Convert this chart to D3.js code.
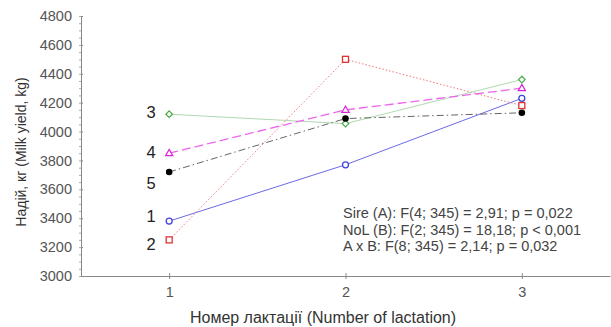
<!DOCTYPE html>
<html><head><meta charset="utf-8">
<script src="https://cdn.jsdelivr.net/npm/d3@7"></script>
<style>body{margin:0;background:#fff}svg{display:block;font-family:Arial,"Liberation Sans",sans-serif}</style>
</head><body><svg id="c" width="611" height="327"></svg>
<script>
const lactations = [1, 2, 3];
const seriesNames = ["1", "2", "3", "4", "5"];
const sire1 = [3380, 3770, 4230];
const sire2 = [3250, 4500, 4180];
const sire3 = [4120, 4055, 4360];
const sire4 = [3850, 4150, 4300];
const sire5 = [3720, 4090, 4130];
const yTicks = [3000, 3200, 3400, 3600, 3800, 4000, 4200, 4400, 4600, 4800];
const statsLines = [
  "Sire (A): F(4; 345) = 2,91; p = 0,022",
  "NoL (B): F(2; 345) = 18,18; p < 0,001",
  "A x B: F(8; 345) = 2,14; p = 0,032"
];
const yTitle = "Надій, кг (Milk yield, kg)";
const xTitle = "Номер лактації (Number of lactation)";

const FF = "Arial, Liberation Sans, sans-serif";
const svg = d3.select("#c");
const m = {l: 81, r: 0, t: 16, b: 51};
const W = 611, H = 327;
const x = d3.scaleLinear().domain([0.5, 3.5]).range([m.l, W - 1]);
const y = d3.scaleLinear().domain([3000, 4800]).range([H - m.b, m.t]);

const yAxisG = svg.append("g").attr("transform", `translate(${m.l},0)`);
yAxisG.call(d3.axisLeft(y).tickValues(d3.range(3000, 4801, 50)).tickSize(2).tickFormat(""))
  .call(g => g.selectAll(".tick line").attr("stroke", "#aaa"))
  .call(g => g.select(".domain").remove());
yAxisG.append("g").call(d3.axisLeft(y).tickValues(yTicks).tickSizeInner(4).tickSizeOuter(0).tickPadding(5).tickFormat(d3.format("d")))
  .call(g => g.select(".domain").attr("stroke", "#888"))
  .call(g => g.selectAll(".tick line").attr("stroke", "#888").attr("x2", 2))
  .call(g => g.selectAll(".tick text").attr("fill", "#555").attr("font-size", 14.5).attr("font-family", FF));

svg.append("g").attr("transform", `translate(0,${H - m.b})`)
  .call(d3.axisBottom(x).tickValues(lactations).tickSizeInner(3).tickSizeOuter(0).tickPadding(8).tickFormat(d3.format("d")))
  .call(g => g.select(".domain").attr("stroke", "#888"))
  .call(g => g.selectAll(".tick line").attr("stroke", "#888").attr("y1", -3))
  .call(g => g.selectAll(".tick text").attr("fill", "#555").attr("font-size", 14.5).attr("font-family", FF));

const series = [
  {name: seriesNames[0], v: sire1, color: "#6a6ae8", dash: null, w: 1, mk: "circle", ldy: -5},
  {name: seriesNames[1], v: sire2, color: "#f07878", dash: "1.5,2", w: 1, mk: "square", ldy: 4},
  {name: seriesNames[2], v: sire3, color: "#b0d8b0", dash: null, w: 1, mk: "diamond", ldy: -2},
  {name: seriesNames[3], v: sire4, color: "#ee66ee", dash: "9,4", w: 1.3, mk: "triangle", ldy: -1},
  {name: seriesNames[4], v: sire5, color: "#666", dash: "7,3,1.5,3", w: 1, mk: "dot", ldy: 11}
];
const mcol = {circle: "#4444dd", square: "#dd3333", diamond: "#44aa44", triangle: "#dd22dd", dot: "#000"};

const line = d3.line().x((d, i) => x(lactations[i])).y(d => y(d));
series.forEach(s => {
  svg.append("path").datum(s.v).attr("d", line).attr("fill", "none")
    .attr("stroke", s.color).attr("stroke-width", s.w).attr("stroke-dasharray", s.dash);
});
series.forEach(s => {
  s.v.forEach((v, i) => {
    const cx = x(lactations[i]), cy = y(v);
    const c = mcol[s.mk];
    if (s.mk === "circle") svg.append("circle").attr("cx", cx).attr("cy", cy).attr("r", 3).attr("fill", "#fff").attr("stroke", c).attr("stroke-width", 1.3);
    else if (s.mk === "dot") svg.append("circle").attr("cx", cx).attr("cy", cy).attr("r", 3.3).attr("fill", "#000");
    else if (s.mk === "square") svg.append("rect").attr("x", cx - 3).attr("y", cy - 3).attr("width", 6).attr("height", 6).attr("fill", "#fff").attr("stroke", c).attr("stroke-width", 1.3);
    else if (s.mk === "diamond") svg.append("path").attr("d", `M${cx},${cy-3.3}L${cx+3.3},${cy}L${cx},${cy+3.3}L${cx-3.3},${cy}Z`).attr("fill", "#fff").attr("stroke", c).attr("stroke-width", 1.2);
    else if (s.mk === "triangle") svg.append("path").attr("d", `M${cx},${cy-3.8}L${cx+3.6},${cy+2.4}L${cx-3.6},${cy+2.4}Z`).attr("fill", "#fff").attr("stroke", c).attr("stroke-width", 1.2);
  });
  svg.append("text").attr("x", x(lactations[0]) - 18).attr("y", y(s.v[0]) + s.ldy).attr("dy", "0.36em")
    .attr("text-anchor", "middle").attr("font-size", 16.5).attr("fill", "#222").text(s.name);
});

const st = svg.append("text").attr("font-size", 14.5).attr("fill", "#444");
statsLines.forEach((t, i) => st.append("tspan").attr("x", 343).attr("y", 218 + i * 16.5).text(t));

svg.append("text").attr("x", 323).attr("y", 323).attr("text-anchor", "middle").attr("font-size", 16).attr("fill", "#333").text(xTitle);
svg.append("text").attr("transform", "translate(26,152) rotate(-90)").attr("text-anchor", "middle").attr("font-size", 14).attr("fill", "#333").text(yTitle);
</script></body></html>
